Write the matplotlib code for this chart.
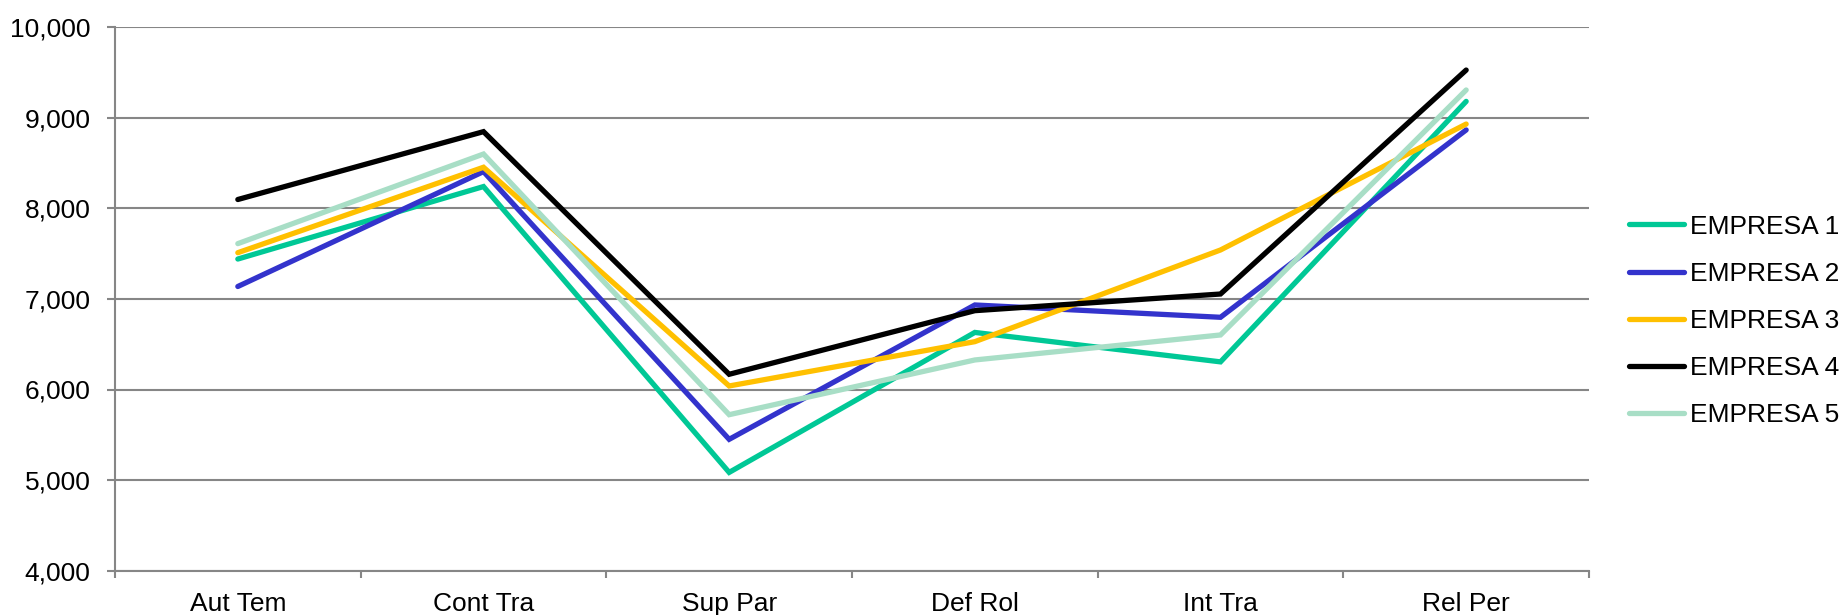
import matplotlib
matplotlib.use("Agg")
import matplotlib.pyplot as plt
from matplotlib.ticker import FuncFormatter, FixedLocator

plt.rcParams['font.family'] = ['Liberation Sans', 'DejaVu Sans']

categories = ["Aut Tem", "Cont Tra", "Sup Par", "Def Rol", "Int Tra", "Rel Per"]
empresa_1 = [7440, 8240, 5085, 6630, 6305, 9180]
empresa_2 = [7137, 8405, 5450, 6933, 6797, 8865]
empresa_3 = [7510, 8453, 6039, 6528, 7540, 8930]
empresa_4 = [8097, 8846, 6168, 6870, 7054, 9526]
empresa_5 = [7610, 8599, 5722, 6326, 6602, 9306]
series_names = ["EMPRESA 1", "EMPRESA 2", "EMPRESA 3", "EMPRESA 4", "EMPRESA 5"]
colors = ["#00C896", "#3333CC", "#FFC000", "#000000", "#A8DEC6"]

grid_col = "#868686"
fs = 19

fig = plt.figure(figsize=(18.45, 6.15), dpi=100)
ax = fig.add_axes([115 / 1845, 1 - 570.7 / 615, (1589 - 115) / 1845, (570.7 - 27.1) / 615])

x = list(range(len(categories)))
all_series = [empresa_1, empresa_2, empresa_3, empresa_4, empresa_5]
for vals, name, col in zip(all_series, series_names, colors):
    ax.plot(x, vals, color=col, lw=3.8, label=name, solid_capstyle='round',
            solid_joinstyle='miter', zorder=3)

ax.set_xlim(-0.5, len(categories) - 0.5)
ax.set_ylim(4000, 10000)
ax.set_yticks(range(4000, 10001, 1000))
ax.yaxis.set_major_formatter(FuncFormatter(lambda v, p: f"{int(v):,}"))
ax.grid(axis='y', color=grid_col, lw=1.5, zorder=1)

ax.set_xticks(x)
ax.set_xticklabels(categories)
ax.xaxis.set_minor_locator(FixedLocator([i - 0.5 for i in range(len(categories) + 1)]))
ax.tick_params(axis='x', which='major', length=0, pad=15, labelsize=fs)
ax.tick_params(axis='x', which='minor', length=5, width=1.5, color=grid_col)
ax.tick_params(axis='y', length=5.5, width=1.5, color=grid_col, pad=12, labelsize=fs)

for s in ['top', 'right']:
    ax.spines[s].set_visible(False)
for s in ['left', 'bottom']:
    ax.spines[s].set_color(grid_col)
    ax.spines[s].set_linewidth(1.5)

ax.legend(loc='center left', bbox_to_anchor=(1629 / 1845, 1 - 321 / 615),
          bbox_transform=fig.transFigure, frameon=False, fontsize=fs,
          handlelength=2.1, handletextpad=0.2, labelspacing=0.88,
          borderpad=0, borderaxespad=0)

fig.savefig("out.png", dpi=100)
